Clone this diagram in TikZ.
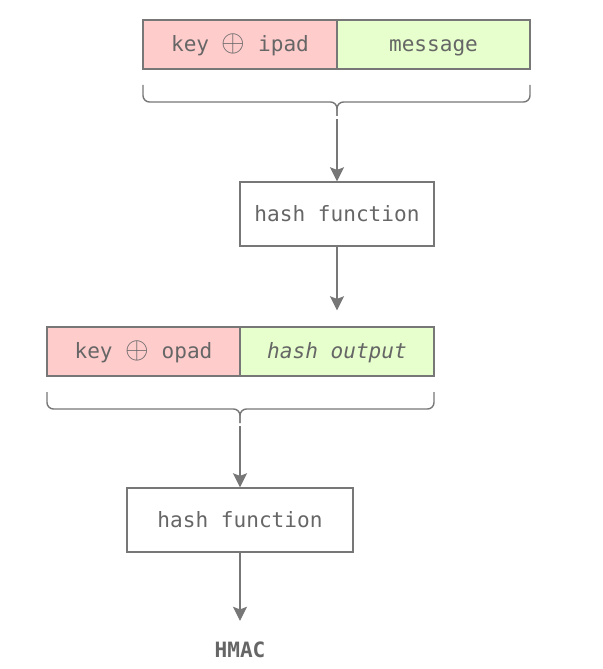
\documentclass[tikz,border=0pt]{standalone}
\usepackage{fontspec}
\setmonofont{DejaVu Sans Mono}
\usetikzlibrary{arrows.meta}
\definecolor{linegray}{HTML}{777777}
\definecolor{textgray}{HTML}{666666}
\definecolor{padred}{HTML}{FFCCCC}
\definecolor{msggreen}{HTML}{E6FFCC}

\newcommand{\xorsign}{{\fontsize{17}{20}\selectfont$\oplus$}}

\tikzset{
    field/.style={draw=linegray, line width=0.8pt, text=textgray, inner sep=0pt,
        minimum height=0.98cm, text height=10.5pt, text depth=2.2pt,
        font=\ttfamily\fontsize{12}{14}\selectfont},
    hashbox/.style={draw=linegray, line width=0.8pt, text=textgray, inner sep=0pt,
        minimum height=1.28cm, text height=10.5pt, text depth=2.2pt,
        font=\ttfamily\fontsize{12}{14}\selectfont},
    flow/.style={-{Stealth[length=8pt, width=8pt, inset=1.5pt]}, draw=linegray, line width=0.8pt},
    curly/.style={draw=linegray, line width=0.8pt, rounded corners=0.13cm}
}

\begin{document}
\begin{tikzpicture}[x=0.02cm, y=-0.02cm]
        \useasboundingbox (0,0) rectangle (602,669);

        % inner round
        \node[field, fill=padred, minimum width=3.88cm]   (ipad) at (240,44.5) {key \xorsign{} ipad};
        \node[field, fill=msggreen, minimum width=3.86cm] (msg)  at (433.5,44.5) {message};
        \coordinate (b1l) at (143,85);
        \coordinate (b1r) at (530,85);
        \coordinate (b1tip) at (337,116);
        \draw[curly] (b1l) |- (b1tip |- 0,102) -- (b1tip);
        \draw[curly] (b1r) |- (b1tip |- 0,102) -- (b1tip);

        \node[hashbox, minimum width=3.88cm] (hash1) at (337,214) {hash function};

        % outer round
        \node[field, fill=padred, minimum width=3.86cm]   (opad) at (143.5,351.5) {key \xorsign{} opad};
        \node[field, fill=msggreen, minimum width=3.88cm] (hout) at (337,351.5) {\textit{hash output}};
        \coordinate (b2l) at (47,392);
        \coordinate (b2r) at (434,392);
        \coordinate (b2tip) at (240,423);
        \draw[curly] (b2l) |- (b2tip |- 0,409) -- (b2tip);
        \draw[curly] (b2r) |- (b2tip |- 0,409) -- (b2tip);

        \node[text=textgray, font=\ttfamily\bfseries\fontsize{12}{14}\selectfont] (hmac) at (240,650) {HMAC};
        \node[hashbox, minimum width=4.52cm] (hash2) at (240,520) {hash function};

        \draw[flow, shorten <=0.06cm] (b1tip) -- (hash1.north);
        \draw[flow, shorten >=0.32cm] (hash1.south) -- (hout.north);
        \draw[flow, shorten <=0.06cm] (b2tip) -- (hash2.north);
        \draw[flow, shorten >=0.3cm] (hash2.south) -- (hmac.north);
    \end{tikzpicture}
\end{document}
